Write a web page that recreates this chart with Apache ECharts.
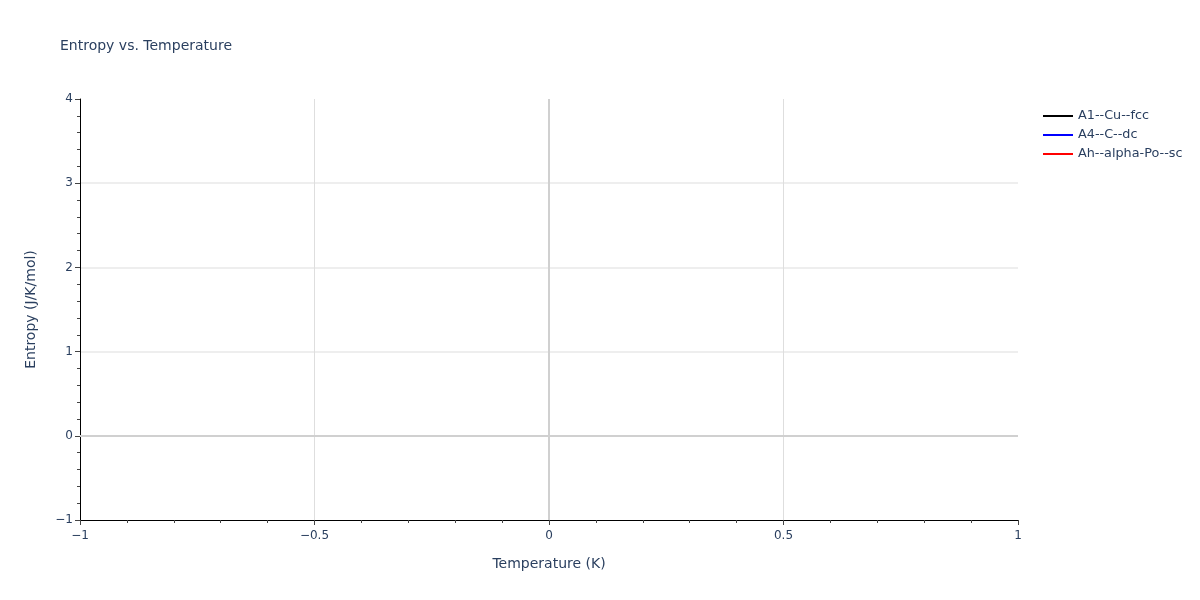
<!DOCTYPE html>
<html>
<head>
<meta charset="utf-8">
<script src="https://cdn.jsdelivr.net/npm/echarts@6/dist/echarts.min.js"></script>
<style>html,body{margin:0;padding:0;background:#fff}#c{width:1200px;height:600px}</style>
</head>
<body>
<div id="c"></div>
<script>
const seriesNames = ['A1--Cu--fcc', 'A4--C--dc', 'Ah--alpha-Po--sc'];
const seriesColors = ['#000000', '#0000ff', '#ff0000'];
const seriesData = [[], [], []];
const xRange = [-1, 1];
const yRange = [-1, 4];
const zeroLines = [0];

const fmt = v => (v < 0 ? '\u2212' + Math.abs(v) : String(v));
const font = '"DejaVu Sans", Verdana, sans-serif';
const ink = '#2a3f5f';

const series = seriesNames.map((n, i) => ({
  name: n, type: 'line', data: seriesData[i], showSymbol: false,
  lineStyle: { color: seriesColors[i], width: 2 }, itemStyle: { color: seriesColors[i] }
}));
series.push({
  name: '_zero', type: 'line', data: [], silent: true,
  markLine: {
    silent: true, symbol: 'none', animation: false,
    label: { show: false },
    lineStyle: { color: '#d0d0d0', width: 2, type: 'solid' },
    data: [{ xAxis: zeroLines[0] }, { yAxis: zeroLines[0] }]
  }
});

const chart = echarts.init(document.getElementById('c'));
chart.setOption({
  animation: false,
  backgroundColor: '#fff',
  title: { text: 'Entropy vs. Temperature', left: 60, top: 39, padding: 0,
    textStyle: { fontFamily: font, fontSize: 14, fontWeight: 'normal', color: ink } },
  legend: {
    data: seriesNames, orient: 'vertical', left: 1043, top: 106.5, padding: 0,
    icon: 'rect', itemWidth: 30, itemHeight: 2, itemGap: 0,
    textStyle: { fontFamily: font, fontSize: 12.8, color: ink, lineHeight: 19 }
  },
  grid: { left: 80, right: 182, top: 99, bottom: 80 },
  xAxis: {
    type: 'value', min: xRange[0], max: xRange[1], interval: 0.5,
    name: 'Temperature (K)', nameLocation: 'middle', nameGap: 37,
    nameTextStyle: { fontFamily: font, fontSize: 14, color: ink },
    axisLine: { onZero: false, lineStyle: { color: '#000', width: 1 } },
    axisTick: { show: true, length: 5, lineStyle: { color: '#444' } },
    minorTick: { show: true, splitNumber: 5, length: 3, lineStyle: { color: '#444' } },
    axisLabel: { formatter: fmt, fontFamily: font, fontSize: 12, color: ink, margin: 10 },
    splitLine: { show: true, showMinLine: false, showMaxLine: false, lineStyle: { color: '#dedede', width: 1 } }
  },
  yAxis: {
    type: 'value', min: yRange[0], max: yRange[1], interval: 1,
    name: 'Entropy (J/K/mol)', nameLocation: 'middle', nameGap: 42,
    nameTextStyle: { fontFamily: font, fontSize: 14, color: ink },
    axisLine: { show: true, onZero: false, lineStyle: { color: '#000', width: 1 } },
    axisTick: { show: true, length: 5, lineStyle: { color: '#444' } },
    minorTick: { show: true, splitNumber: 5, length: 3, lineStyle: { color: '#444' } },
    axisLabel: { formatter: fmt, fontFamily: font, fontSize: 12, color: ink, margin: 7 },
    splitLine: { show: true, showMinLine: false, showMaxLine: false, lineStyle: { color: '#e8e8e8', width: 1.5 } }
  },
  series: series
});
</script>
</body>
</html>
